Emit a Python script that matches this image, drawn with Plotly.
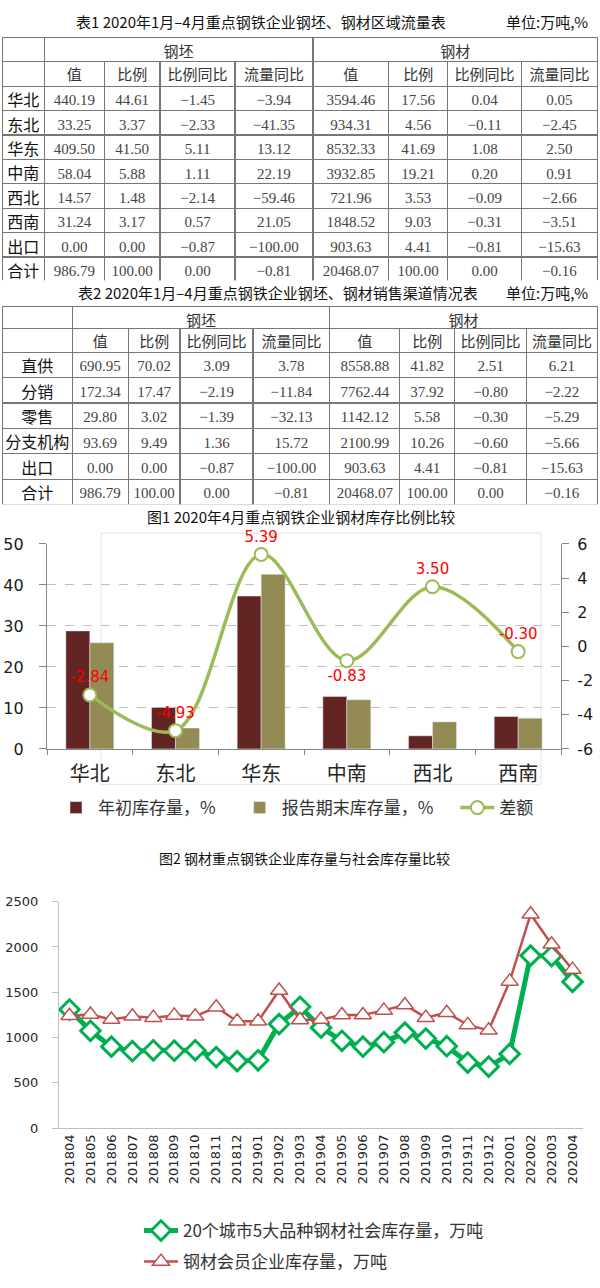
import plotly.graph_objects as go

# ---------------- Table 1 data ----------------
t1_regions = ["华北", "东北", "华东", "中南", "西北", "西南", "出口", "合计"]
t1_billet_value = [440.19, 33.25, 409.50, 58.04, 14.57, 31.24, 0.00, 986.79]
t1_billet_share = [44.61, 3.37, 41.50, 5.88, 1.48, 3.17, 0.00, 100.00]
t1_billet_share_yoy = [-1.45, -2.33, 5.11, 1.11, -2.14, 0.57, -0.87, 0.00]
t1_billet_flow_yoy = [-3.94, -41.35, 13.12, 22.19, -59.46, 21.05, -100.00, -0.81]
t1_steel_value = [3594.46, 934.31, 8532.33, 3932.85, 721.96, 1848.52, 903.63, 20468.07]
t1_steel_share = [17.56, 4.56, 41.69, 19.21, 3.53, 9.03, 4.41, 100.00]
t1_steel_share_yoy = [0.04, -0.11, 1.08, 0.20, -0.09, -0.31, -0.81, 0.00]
t1_steel_flow_yoy = [0.05, -2.45, 2.50, 0.91, -2.66, -3.51, -15.63, -0.16]

# ---------------- Table 2 data ----------------
t2_channels = ["直供", "分销", "零售", "分支机构", "出口", "合计"]
t2_billet_value = [690.95, 172.34, 29.80, 93.69, 0.00, 986.79]
t2_billet_share = [70.02, 17.47, 3.02, 9.49, 0.00, 100.00]
t2_billet_share_yoy = [3.09, -2.19, -1.39, 1.36, -0.87, 0.00]
t2_billet_flow_yoy = [3.78, -11.84, -32.13, 15.72, -100.00, -0.81]
t2_steel_value = [8558.88, 7762.44, 1142.12, 2100.99, 903.63, 20468.07]
t2_steel_share = [41.82, 37.92, 5.58, 10.26, 4.41, 100.00]
t2_steel_share_yoy = [2.51, -0.80, -0.30, -0.60, -0.81, 0.00]
t2_steel_flow_yoy = [6.21, -2.22, -5.29, -5.66, -15.63, -0.16]

group_headers = ["", "钢坯", "钢材"]
sub_headers = ["", "值", "比例", "比例同比", "流量同比", "值", "比例", "比例同比", "流量同比"]

# ---------------- Chart 1 data ----------------
c1_regions = ["华北", "东北", "华东", "中南", "西北", "西南"]
c1_start_stock = [28.8, 10.1, 37.3, 12.8, 3.2, 7.9]
c1_end_stock = [25.9, 5.1, 42.6, 12.0, 6.6, 7.5]
c1_diff = [-2.84, -4.93, 5.39, -0.83, 3.50, -0.30]
c1_right_ticks = [-6, -4, -2, 0, 2, 4, 6]
c1_right_labels = ["-6", "-4", "-2", "0", "2", "4", "6"]

# ---------------- Chart 2 data ----------------
c2_months = ["201804", "201805", "201806", "201807", "201808", "201809", "201810",
             "201811", "201812", "201901", "201902", "201903", "201904", "201905",
             "201906", "201907", "201908", "201909", "201910", "201911", "201912",
             "202001", "202002", "202003", "202004"]
c2_social = [1310, 1075, 900, 850, 860, 855, 860, 785, 740, 750, 1150, 1340, 1110,
             965, 900, 950, 1055, 990, 905, 725, 680, 820, 1905, 1900, 1615]
c2_member = [1240, 1255, 1200, 1235, 1220, 1245, 1235, 1335, 1180, 1180, 1520, 1195,
             1200, 1250, 1250, 1300, 1360, 1220, 1275, 1140, 1080, 1620, 2360, 2030, 1750]

W, H = 600, 1288


def py(px):
    return 1 - px / H


def px_x(px):
    return px / W


def fmt(v):
    return f"{v:.2f}".replace("-", "\u2212")


CJK = "Noto Sans CJK SC"
SERIF = "Liberation Serif"
LINE = "#777777"
TXT = "#333333"
PAD = "\u3000"  # spacing after legend entries

fig = go.Figure()


def add_table(top, group_h, head_h, row_h, widths, group_widths, labels, cols):
    n = len(labels)
    fig.add_trace(go.Table(
        domain=dict(x=[0.004, 0.996], y=[py(top + group_h + 2), py(top)]),
        columnwidth=group_widths,
        header=dict(values=group_headers, height=group_h, align="center",
                    fill_color="white", line=dict(color=LINE, width=1.3),
                    font=dict(family=CJK, size=15, color=TXT)),
        cells=dict(values=[[], [], []], height=0, line=dict(color=LINE, width=0),
                   fill_color="white"),
    ))
    t2 = top + group_h
    body = [labels] + [[fmt(v) for v in c] for c in cols]
    fig.add_trace(go.Table(
        domain=dict(x=[0.004, 0.996], y=[py(t2 + head_h + n * row_h + 3), py(t2)]),
        columnwidth=widths,
        header=dict(values=sub_headers, height=head_h, align="center",
                    fill_color="white", line=dict(color=LINE, width=1.3),
                    font=dict(family=CJK, size=15, color=TXT)),
        cells=dict(values=body, height=row_h, align="center",
                   fill_color="white", line=dict(color=LINE, width=1.3),
                   font=dict(family=[CJK] + [SERIF] * 8,
                             size=[16] + [15] * 8,
                             color=["#111111"] + ["#444444"] * 8)),
    ))


add_table(29, 24, 25, 24.4,
          [42, 60, 56, 75, 78, 76, 59, 74, 76], [42, 269, 285],
          t1_regions,
          [t1_billet_value, t1_billet_share, t1_billet_share_yoy, t1_billet_flow_yoy,
           t1_steel_value, t1_steel_share, t1_steel_share_yoy, t1_steel_flow_yoy])

add_table(302, 22, 24, 25.4,
          [70, 56, 52, 73, 77, 70, 55, 72, 71], [70, 258, 268],
          t2_channels,
          [t2_billet_value, t2_billet_share, t2_billet_share_yoy, t2_billet_flow_yoy,
           t2_steel_value, t2_steel_share, t2_steel_share_yoy, t2_steel_flow_yoy])

# ---------------- Chart 1 ----------------
fig.add_trace(go.Bar(x=c1_regions, y=c1_start_stock, name="年初库存量，%" + PAD,
                     marker=dict(color="#632523"), xaxis="x", yaxis="y",
                     legend="legend"))
fig.add_trace(go.Bar(x=c1_regions, y=c1_end_stock, name="报告期末库存量，%" + PAD,
                     marker=dict(color="#948A54"), xaxis="x", yaxis="y",
                     legend="legend"))
pos = ["top center"] * len(c1_diff)
pos[3] = "bottom center"
fig.add_trace(go.Scatter(x=c1_regions, y=c1_diff, name="差额", mode="lines+markers+text",
                         line=dict(color="#9BBB59", width=3.5, shape="spline", smoothing=1.0),
                         marker=dict(symbol="circle", size=13, color="white",
                                     line=dict(color="#9BBB59", width=2)),
                         text=[f"{v:.2f}" for v in c1_diff], textposition=pos,
                         textfont=dict(family="DejaVu Sans", size=15, color="#FF0000"),
                         cliponaxis=False, xaxis="x", yaxis="y2", legend="legend"))

# ---------------- Chart 2 ----------------
fig.add_trace(go.Scatter(x=c2_months, y=c2_social, name="20个城市5大品种钢材社会库存量，万吨",
                         mode="lines+markers", legendgroup="a",
                         line=dict(color="#00B050", width=5),
                         marker=dict(symbol="diamond", size=15, color="white",
                                     line=dict(color="#00B050", width=3)),
                         cliponaxis=False, xaxis="x3", yaxis="y3", legend="legend2"))
fig.add_trace(go.Scatter(x=c2_months, y=c2_member, name="钢材会员企业库存量，万吨",
                         mode="lines+markers", legendgroup="b",
                         line=dict(color="#C0504D", width=2.5),
                         marker=dict(symbol="triangle-up", size=15, color="white",
                                     line=dict(color="#C0504D", width=1.5)),
                         cliponaxis=False, xaxis="x3", yaxis="y3", legend="legend2"))

AX = "#868686"
fig.update_layout(
    width=W, height=H, margin=dict(l=0, r=0, t=0, b=0),
    paper_bgcolor="white", plot_bgcolor="white",
    font=dict(family="DejaVu Sans, " + CJK, color=TXT),
    barmode="group", bargap=0.44, bargroupgap=0,
    xaxis=dict(domain=[px_x(47), px_x(561)], anchor="y", showline=True, linecolor=AX,
               linewidth=1.2, ticks="outside", tickson="boundaries", ticklen=5,
               tickcolor=AX, showgrid=False, ticklabelstandoff=7,
               tickfont=dict(family=CJK, size=20, color="#262626")),
    yaxis=dict(domain=[py(751), py(543)], anchor="x", range=[0, 50], dtick=10,
               showline=True, linecolor=AX, linewidth=1.2, ticks="outside", ticklen=7,
               tickcolor=AX, showgrid=True, gridcolor="#BFBFBF", griddash="dash",
               zeroline=False, ticklabelstandoff=12,
               tickfont=dict(family="DejaVu Sans", size=16, color="#1a1a1a")),
    yaxis2=dict(overlaying="y", side="right", anchor="x", range=[-6, 6],
                tickmode="array", tickvals=c1_right_ticks, ticktext=c1_right_labels,
                showline=True, linecolor=AX, linewidth=1.2, ticks="outside", ticklen=7,
                tickcolor=AX, showgrid=False, zeroline=False, ticklabelstandoff=5,
                tickfont=dict(family="DejaVu Sans", size=16, color="#1a1a1a")),
    xaxis3=dict(domain=[px_x(59), px_x(583)], anchor="y3", range=[-0.5, len(c2_months) - 0.5],
                showline=True, linecolor="#BFBFBF",
                linewidth=1.2, ticks="", showgrid=False, tickangle=-90,
                tickfont=dict(family="DejaVu Sans", size=13, color="#262626")),
    yaxis3=dict(domain=[py(1136), py(906)], anchor="x3", range=[0, 2500], dtick=500,
                showline=True, linecolor="#BFBFBF", linewidth=1.2, ticks="outside", ticklen=6,
                tickcolor="#BFBFBF", showgrid=False, zeroline=False, ticklabelstandoff=11,
                tickfont=dict(family="DejaVu Sans", size=13, color="#262626")),
    legend=dict(orientation="h", x=px_x(54), y=py(811), xanchor="left", yanchor="middle",
                font=dict(family=CJK, size=17, color=TXT), bgcolor="rgba(0,0,0,0)",
                itemwidth=34, traceorder="normal"),
    legend2=dict(orientation="v", x=px_x(139), y=py(1222), xanchor="left", yanchor="top",
                 font=dict(family=CJK, size=17, color=TXT), bgcolor="rgba(0,0,0,0)",
                 itemwidth=34, tracegroupgap=6),
    shapes=[dict(type="rect", xref="paper", yref="paper", x0=px_x(101), x1=px_x(541),
                 y0=py(787), y1=py(532), line=dict(color="#E3E3E3", width=1), layer="below")],
    annotations=[
        dict(text="表1 2020年1月–4月重点钢铁企业钢坯、钢材区域流量表", x=px_x(261), y=py(13),
             yanchor="middle", xref="paper", yref="paper", showarrow=False,
             font=dict(family=CJK, size=15, color="#111")),
        dict(text="单位:万吨,%", x=px_x(590), y=py(13), xanchor="right", yanchor="middle",
             xref="paper", yref="paper", showarrow=False, font=dict(family=CJK, size=15, color="#111")),
        dict(text="表2 2020年1月–4月重点钢铁企业钢坯、钢材销售渠道情况表", x=px_x(278), y=py(288),
             yanchor="middle", xref="paper", yref="paper", showarrow=False,
             font=dict(family=CJK, size=15, color="#111")),
        dict(text="单位:万吨,%", x=px_x(590), y=py(288), xanchor="right", yanchor="middle",
             xref="paper", yref="paper", showarrow=False, font=dict(family=CJK, size=15, color="#111")),
        dict(text="图1 2020年4月重点钢铁企业钢材库存比例比较", x=px_x(301), y=py(515),
             yanchor="middle", xref="paper", yref="paper", showarrow=False,
             font=dict(family=CJK, size=15, color="#111")),
        dict(text="图2 钢材重点钢铁企业库存量与社会库存量比较", x=px_x(304), y=py(862),
             yanchor="middle", xref="paper", yref="paper", showarrow=False,
             font=dict(family=CJK, size=14, color="#111")),
    ],
)

fig.write_html("out.html", config={"displayModeBar": False},
               post_script="document.body.style.margin='0px';")
